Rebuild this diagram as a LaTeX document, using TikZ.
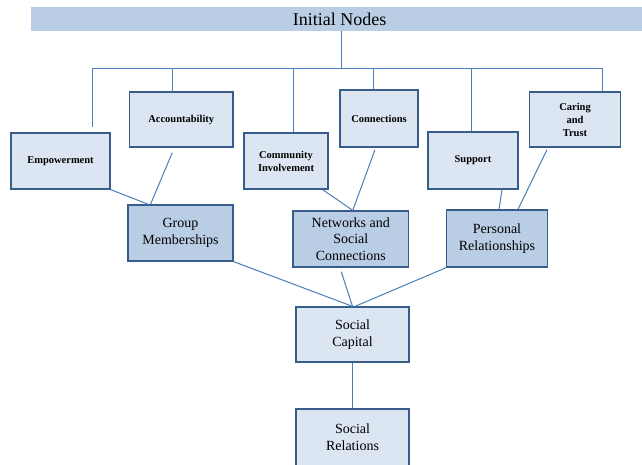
\documentclass[tikz,border=0pt]{standalone}
\usepackage{fontspec}
\setmainfont{Liberation Serif}
\usepackage{tikz}
\usetikzlibrary{positioning}
\definecolor{boxlight}{HTML}{DCE6F2}
\definecolor{boxdark}{HTML}{B9CDE5}
\definecolor{boxline}{HTML}{385D8A}
\definecolor{linkblue}{HTML}{4A7EBB}
\tikzset {
    style A/.style={
        fill=boxlight,
        draw=boxline,
        line width=1.3pt,
        rectangle, % Set the shape as a rectangle
        inner sep=2pt,
        align=center,
        font=\fontsize{10.5}{13}\selectfont\bfseries,
    },
    style B/.style={
        fill=boxdark,
        draw=boxline,
        line width=1.3pt,
        rectangle, % Set the shape as a rectangle
        inner sep=2pt,
        align=center,
        font=\fontsize{14}{16.5}\selectfont,
    },
    style C/.style={
        fill=boxlight,
        draw=boxline,
        line width=1.3pt,
        rectangle, % Set the shape as a rectangle
        inner sep=2pt,
        align=center,
        font=\fontsize{14}{16.5}\selectfont,
    },
    style D/.style={
        fill=boxdark,
        draw=none,
        rectangle, % Set the shape as a rectangle
        inner sep=0pt,
        align=center,
        font=\fontsize{18}{20}\selectfont,
    },
    style line/.style={
        draw=linkblue,
        line width=1pt,
    },
}
\begin{document}
\begin{tikzpicture}
[x=1pt, y=-1pt]
\clip (0, 0) rectangle (642, 464);
\fill[white] (0, 0) rectangle (642, 464);

\node[style D, minimum width=617, minimum height=24] at (339.5, 19) (bar) {Initial Nodes};
\coordinate (hub) at (341, 68);

\node[style A, minimum width=99, minimum height=56] at (60.5, 161) (empower) {Empowerment};
\node[style A, minimum width=103.5, minimum height=55] at (181.25, 119.5) (account) {Accountability};
\node[style A, minimum width=84, minimum height=56] at (286, 161) (community) {Community\\Involvement};
\node[style A, minimum width=78, minimum height=57] at (379, 118.5) (connect) {Connections};
\node[style A, minimum width=90, minimum height=57] at (473, 160.5) (support) {Support};
\node[style A, minimum width=91.5, minimum height=55] at (575, 119.5) (caring) {Caring\\and\\Trust};

\node[style B, minimum width=105, minimum height=56] at (180.5, 233) (group) {Group\\Memberships};
\node[style B, minimum width=115.5, minimum height=56] at (350.75, 239) (networks) {Networks and\\Social\\Connections};
\node[style B, minimum width=100.5, minimum height=57] at (497, 238.5) (personal) {Personal\\Relationships};

\node[style C, minimum width=113, minimum height=55] at (352.5, 334.5) (capital) {Social\\Capital};
\node[style C, minimum width=113, minimum height=70, text depth=14pt] at (352.5, 444) (relations) {Social\\Relations};

\draw[style line] ([xshift=1.5pt]bar.south) -- (hub);
\draw[style line] (hub) -| ([shift={(31.5,-5)}]empower.north);
\draw[style line] (hub) -| ([xshift=-8.5pt]account.north);
\draw[style line] (hub) -| ([xshift=7pt]community.north);
\draw[style line] (hub) -| ([xshift=-6pt]connect.north);
\draw[style line] (hub) -| ([xshift=-2pt]support.north);
\draw[style line] (hub) -| ([xshift=27pt]caring.north);

\draw[style line] (empower.south east) -- ([xshift=-32pt]group.north);
\draw[style line] ([shift={(-9,5)}]account.south) -- ([xshift=-30pt]group.north);
\draw[style line] ([xshift=-6pt]community.south east) -- ([xshift=2pt]networks.north);
\draw[style line] ([shift={(-4,2)}]connect.south) -- ([xshift=2pt]networks.north);
\draw[style line] ([xshift=29pt]support.south) -- ([xshift=2pt]personal.north);
\draw[style line] ([shift={(-28,2)}]caring.south) -- ([xshift=21pt]personal.north);

\draw[style line] (group.south east) -- (capital.north);
\draw[style line] ([shift={(-9.5,4)}]networks.south) -- (capital.north);
\draw[style line] (personal.south west) -- ([xshift=2.5pt]capital.north);
\draw[style line] (capital.south) -- (relations.north);
\end{tikzpicture}
\end{document}
